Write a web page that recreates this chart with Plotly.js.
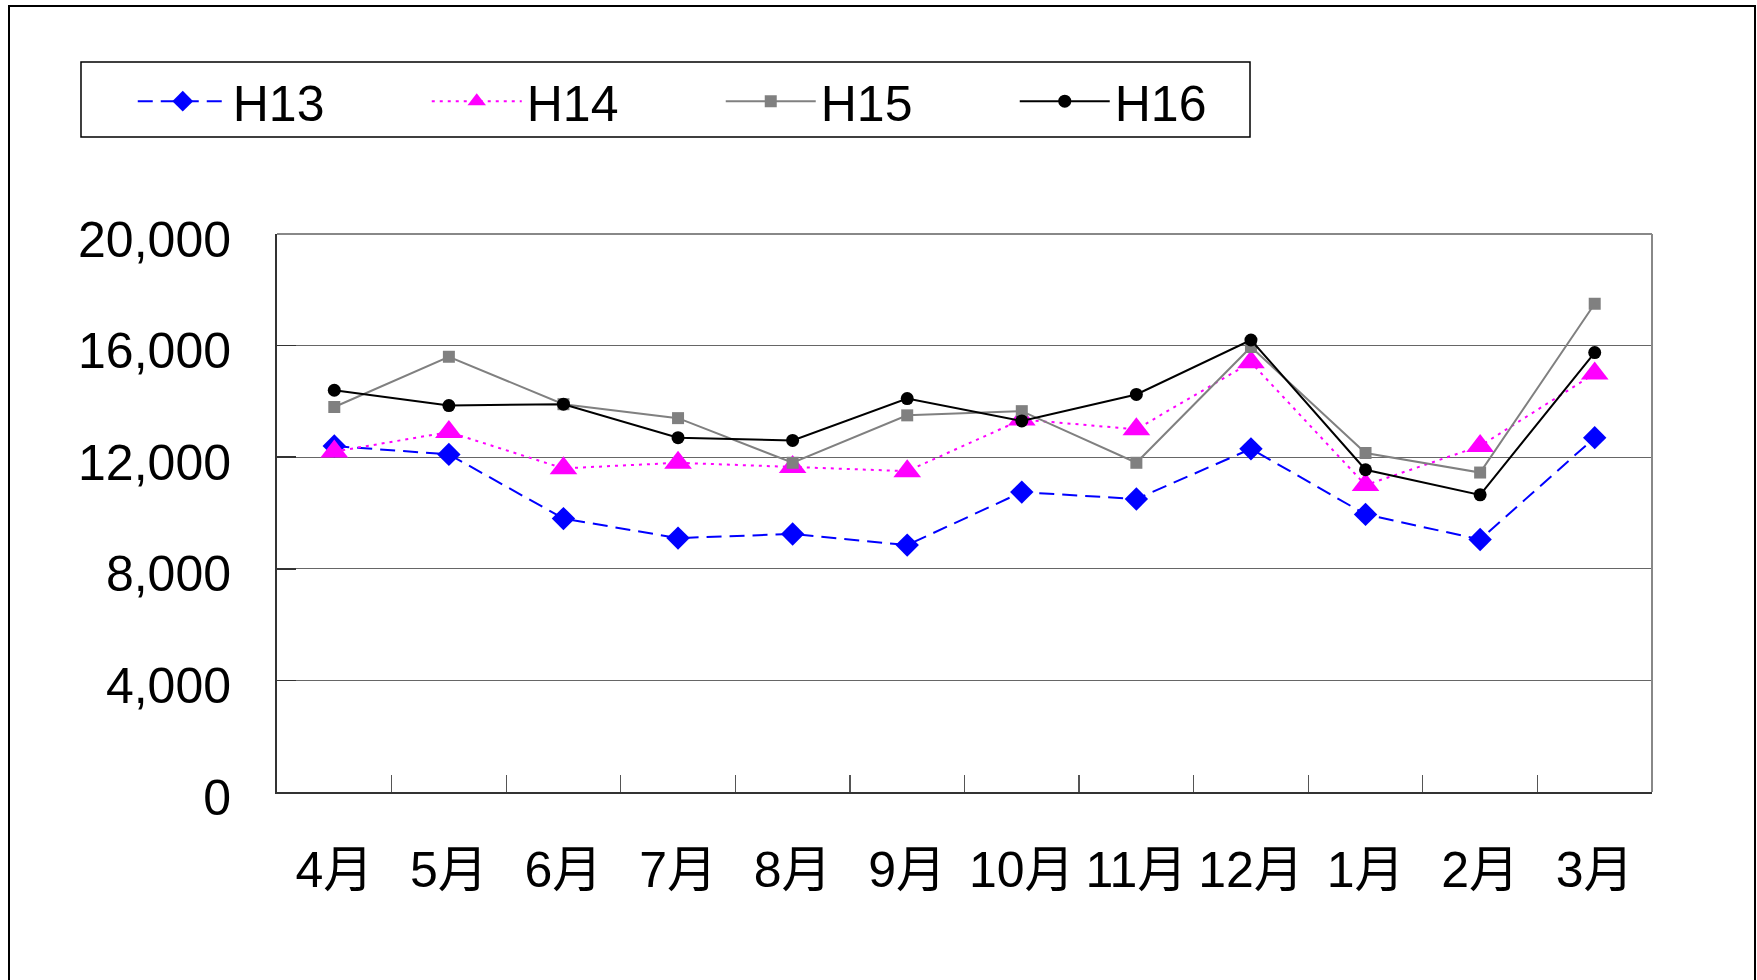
<!DOCTYPE html>
<html>
<head>
<meta charset="utf-8">
<script src="https://cdn.plot.ly/plotly-3.0.1.min.js"></script>
<style>
html, body { margin: 0; padding: 0; background: #fff; overflow: hidden; }
#chart { width: 1757px; height: 980px; }
#frame { position: absolute; left: 8px; top: 5px; width: 1744px; height: 1000px; border: 2px solid #000; pointer-events: none; }
</style>
</head>
<body>
<div id="chart"></div>
<div id="frame"></div>
<script>
const months = ['4月','5月','6月','7月','8月','9月','10月','11月','12月','1月','2月','3月'];
const seriesNames = ['H13','H14','H15','H16'];
const h13 = [12400, 12100, 9800, 9100, 9250, 8850, 10750, 10500, 12300, 9950, 9050, 12700];
const h14 = [12200, 12900, 11600, 11800, 11650, 11500, 13350, 13000, 15400, 11000, 12400, 15000];
const h15 = [13800, 15600, 13900, 13400, 11800, 13500, 13650, 11800, 15950, 12150, 11450, 17500];
const h16 = [14400, 13850, 13900, 12700, 12600, 14100, 13300, 14250, 16200, 11550, 10650, 15750];
const yTicks = [0, 4000, 8000, 12000, 16000, 20000];

const FONT = 'Liberation Sans, Arial, "Noto Sans CJK JP", sans-serif';

const traces = [
  { x: months, y: h13, name: seriesNames[0], type: 'scatter', mode: 'lines+markers',
    line: { color: '#0000FF', width: 2, dash: '15px,8px' },
    marker: { symbol: 'diamond', size: 18, color: '#0000FF' } },
  { x: months, y: h14, name: seriesNames[1], type: 'scatter', mode: 'lines+markers',
    line: { color: '#FF00FF', width: 2, dash: '3px,5px' },
    marker: { symbol: 'triangle-up', size: 24, color: '#FF00FF' } },
  { x: months, y: h15, name: seriesNames[2], type: 'scatter', mode: 'lines+markers',
    line: { color: '#808080', width: 2 },
    marker: { symbol: 'square', size: 12, color: '#808080' } },
  { x: months, y: h16, name: seriesNames[3], type: 'scatter', mode: 'lines+markers',
    line: { color: '#000000', width: 2 },
    marker: { symbol: 'circle', size: 13, color: '#000000' } }
];

const layout = {
  width: 1757, height: 980,
  margin: { l: 277, r: 105, t: 234, b: 188, pad: 0 },
  paper_bgcolor: 'rgba(0,0,0,0)',
  plot_bgcolor: '#ffffff',
  font: { family: FONT, size: 50, color: '#000' },
  showlegend: true,
  legend: {
    orientation: 'h',
    x: -0.1425, xanchor: 'left',
    y: 1.308, yanchor: 'top',
    borderwidth: 0,
    bgcolor: 'rgba(0,0,0,0)',
    font: { family: FONT, size: 50, color: '#000' },
    title: { text: '\u00a0\u00a0\u00a0', side: 'left', font: { family: FONT, size: 50 } },
    entrywidth: 189, entrywidthmode: 'pixels',
    itemwidth: 90,
    tracegroupgap: 0
  },
  xaxis: {
    type: 'category',
    categoryorder: 'array', categoryarray: months,
    range: [-0.5, 11.5],
    showline: true, linecolor: '#333', linewidth: 2,
    ticks: 'inside', ticklen: 17, tickcolor: '#555', tickwidth: 1.2,
    tickson: 'boundaries',
    showgrid: false, zeroline: false,
    tickangle: 0,
    tickfont: { family: FONT, size: 50, color: '#000' },
    ticklabelstandoff: 33,
    fixedrange: true
  },
  yaxis: {
    range: [0, 20000],
    tickvals: yTicks,
    tickformat: ',d',
    showline: true, linecolor: '#333', linewidth: 2,
    ticks: 'inside', ticklen: 19, tickcolor: '#333', tickwidth: 1.5,
    showgrid: true, gridcolor: '#666', gridwidth: 1.3,
    zeroline: false,
    tickfont: { family: FONT, size: 50, color: '#000' },
    ticklabelstandoff: 34,
    ticklabelshift: 5,
    fixedrange: true
  },
  shapes: [
    { type: 'line', xref: 'paper', yref: 'paper', x0: 1, x1: 1, y0: 0, y1: 1,
      line: { color: '#888', width: 2 } },
    { type: 'line', xref: 'paper', yref: 'paper', x0: 0, x1: 1, y0: 1, y1: 1,
      line: { color: '#888', width: 2 } },
    { type: 'rect', xref: 'paper', yref: 'paper', x0: -0.14255, x1: 0.70764, y0: 1.17384, y1: 1.30824,
      line: { color: '#000', width: 1.5 }, fillcolor: 'rgba(0,0,0,0)' }
  ]
};

Plotly.newPlot('chart', traces, layout, { displayModeBar: false, staticPlot: true });
</script>
</body>
</html>
